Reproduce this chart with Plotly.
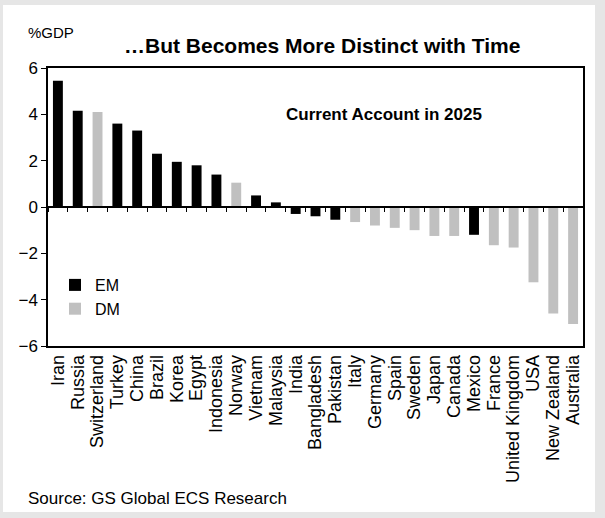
import plotly.graph_objects as go

countries = ["Iran", "Russia", "Switzerland", "Turkey", "China", "Brazil", "Korea", "Egypt",
             "Indonesia", "Norway", "Vietnam", "Malaysia", "India", "Bangladesh", "Pakistan",
             "Italy", "Germany", "Spain", "Sweden", "Japan", "Canada", "Mexico", "France",
             "United Kingdom", "USA", "New Zealand", "Australia"]
values = [5.45, 4.15, 4.1, 3.6, 3.3, 2.3, 1.95, 1.8, 1.4, 1.05, 0.5, 0.2, -0.3, -0.4, -0.55,
          -0.65, -0.8, -0.9, -1.0, -1.25, -1.25, -1.2, -1.65, -1.75, -3.25, -4.6, -5.05]
group = ["EM", "EM", "DM", "EM", "EM", "EM", "EM", "EM", "EM", "DM", "EM", "EM", "EM", "EM", "EM",
         "DM", "DM", "DM", "DM", "DM", "DM", "EM", "DM", "DM", "DM", "DM", "DM"]
y_ticks = [-6, -4, -2, 0, 2, 4, 6]

colors = {"EM": "#000000", "DM": "#c0c0c0"}
FONT = "Liberation Sans, Arial, sans-serif"

fig = go.Figure()
for g in ["EM", "DM"]:
    xs = [c for c, gg in zip(countries, group) if gg == g]
    ys = [v for v, gg in zip(values, group) if gg == g]
    fig.add_trace(go.Bar(x=xs, y=ys, name=g, marker_color=colors[g], marker_line_width=0,
                         width=0.5))

# invisible trace to hold the zero-line tick axis
fig.add_trace(go.Scatter(x=countries, y=[None] * len(countries), xaxis="x2",
                         showlegend=False, hoverinfo="skip"))

W, H = 605, 518
L, R, T, B = 48, 22, 68, 172
pw, ph = W - L - R, H - T - B

def px(x):
    return (x - L) / pw

def py(y):
    return (H - B - y) / ph

fig.add_shape(type="rect", xref="paper", yref="paper", x0=px(3), x1=px(595), y0=py(512), y1=py(5),
              fillcolor="white", line_width=0, layer="below")

fig.update_layout(
    width=W, height=H,
    margin=dict(l=L, r=R, t=T, b=B),
    paper_bgcolor="#e6e6e6", plot_bgcolor="white",
    font=dict(family=FONT, color="black", size=15),
    barmode="overlay",
    showlegend=True,
    legend=dict(x=px(55), y=py(268), xanchor="left", yanchor="top", bgcolor="rgba(0,0,0,0)",
                font=dict(size=16), tracegroupgap=0, itemwidth=30),
    xaxis=dict(categoryorder="array", categoryarray=countries, tickangle=-90,
               tickmode="array", tickvals=countries, ticktext=countries,
               showline=True, linecolor="black", linewidth=1.5, mirror=True, ticks="",
               tickfont=dict(size=18), range=[-0.5, len(countries) - 0.5], automargin=False),
    xaxis2=dict(overlaying="x", anchor="free", position=0.5, side="bottom",
                categoryorder="array", categoryarray=countries, showticklabels=False,
                tickmode="array", tickvals=countries,
                ticks="outside", ticklen=4, tickwidth=1, tickcolor="black", tickson="boundaries",
                showline=True, linecolor="black", linewidth=1.5, showgrid=False,
                range=[-0.5, len(countries) - 0.5]),
    yaxis=dict(range=[-6, 6], tickvals=y_ticks, showgrid=False, zeroline=False,
               showline=True, linecolor="black", linewidth=1.5, mirror=True,
               ticks="outside", ticklen=5, tickcolor="black", tickfont=dict(size=17)),
    annotations=[
        dict(text="%GDP", xref="paper", yref="paper", x=px(26), y=py(33), xanchor="left",
             yanchor="middle", showarrow=False, font=dict(size=15)),
        dict(text="<b>…But Becomes More Distinct with Time</b>", xref="paper", yref="paper",
             x=px(322), y=py(45), xanchor="center", yanchor="middle", showarrow=False,
             font=dict(size=21)),
        dict(text="<b>Current Account in 2025</b>", xref="paper", yref="paper",
             x=px(384), y=py(115), xanchor="center", yanchor="middle", showarrow=False,
             font=dict(size=17)),
        dict(text="Source: GS Global ECS Research", xref="paper", yref="paper",
             x=px(26), y=py(498), xanchor="left", yanchor="middle", showarrow=False,
             font=dict(size=17)),
    ],
)

fig.write_html("out.html", config={"displayModeBar": False},
               post_script="document.body.style.margin='0px';")
